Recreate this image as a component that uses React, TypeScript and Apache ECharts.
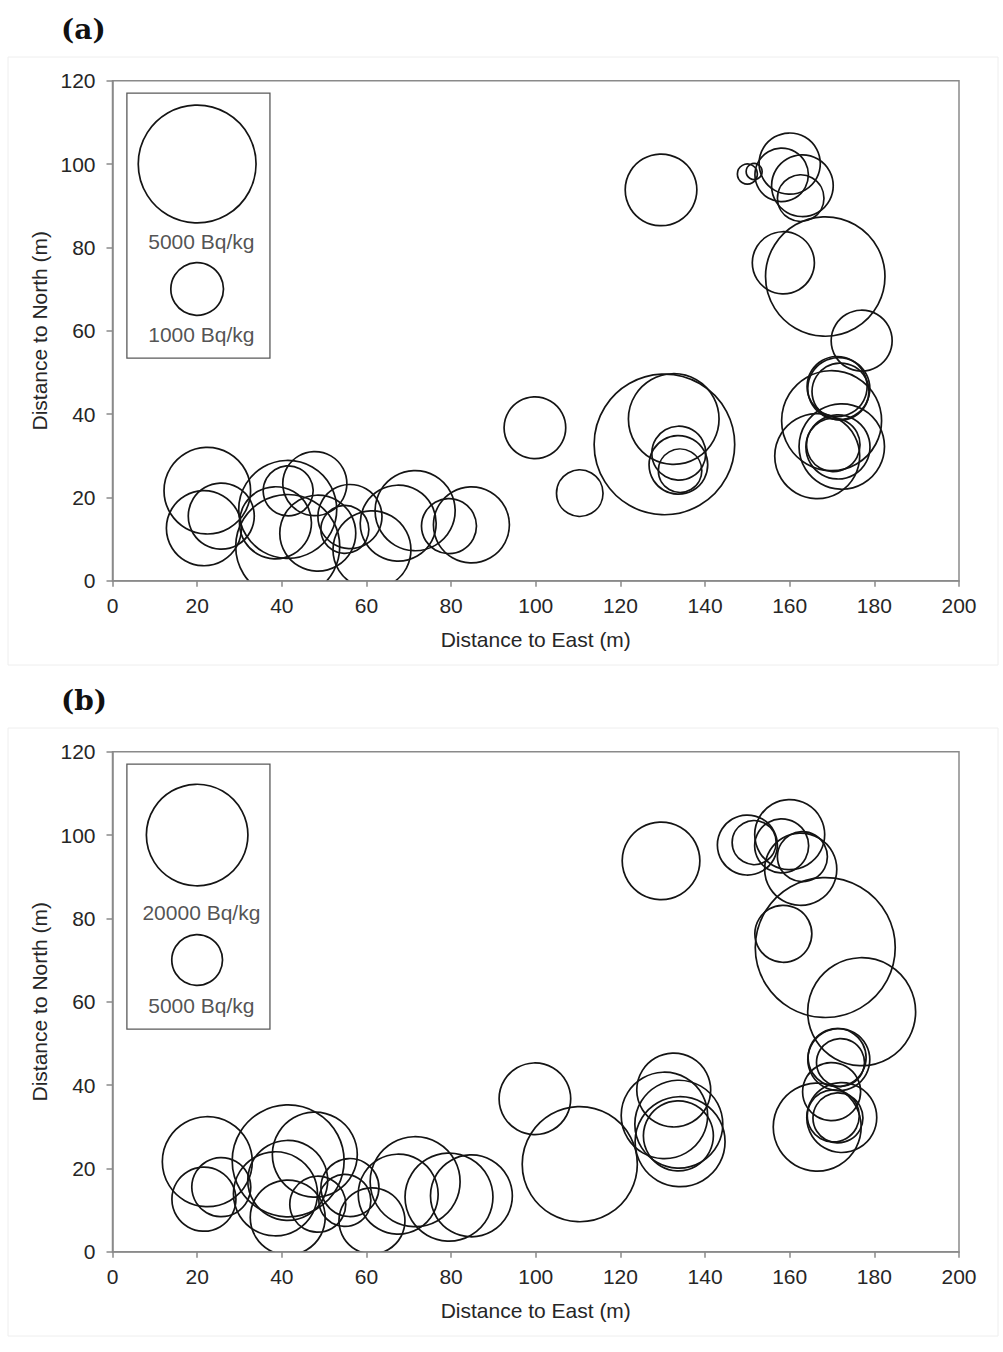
import React, { useEffect, useRef } from "react";
import * as echarts from "echarts";

// Sampling points: distance to east (m) and north (m)
const east = [22.4, 21.6, 25.7, 41.4, 41.5, 47.8, 38.5, 41.4, 48.5, 61.3, 56.1, 54.9, 67.5, 71.5, 79.5, 84.8, 99.8, 110.4, 130.4, 132.6, 133.8, 133.7, 134.1, 129.6, 150.0, 151.6, 160.0, 158.1, 163.0, 162.6, 158.5, 168.4, 177.0, 171.6, 172.0, 171.2, 169.9, 166.5, 172.3, 171.4, 170.3];
const north = [21.6, 12.6, 15.5, 17.1, 21.8, 23.3, 13.9, 8.2, 11.4, 7.4, 15.4, 12.3, 13.8, 16.8, 13.1, 13.4, 36.7, 21.0, 32.7, 38.8, 30.6, 27.8, 26.4, 93.8, 97.6, 98.2, 100.1, 97.4, 94.8, 91.8, 76.3, 73.0, 57.6, 46.1, 45.4, 46.6, 38.4, 29.9, 32.2, 32.1, 32.6];

// Activity concentrations (Bq/kg), panel (a) and panel (b)
const activityA = [2700, 2030, 1570, 3460, 900, 1480, 1870, 3900, 2080, 2190, 1480, 830, 2080, 2310, 1090, 2080, 1370, 780, 7120, 2960, 1050, 1240, 680, 1850, 144, 92, 1350, 1030, 1370, 780, 1390, 5140, 1340, 1390, 1170, 1300, 3600, 2600, 2630, 1480, 1030];
const activityB = [15700, 7950, 6750, 12400, 24300, 14000, 13700, 10900, 6080, 8450, 6530, 5250, 12400, 15700, 15000, 13000, 9950, 25700, 14500, 10600, 15000, 9500, 15700, 11700, 6980, 3760, 9500, 5660, 4850, 10100, 6300, 38000, 22600, 7460, 4470, 6530, 6530, 15000, 9500, 4850, 5250];

// Legend reference bubbles
const legendValuesA = [5000, 1000];
const legendValuesB = [20000, 5000];
const legendLabelsA = ["5000 Bq/kg", "1000 Bq/kg"];
const legendLabelsB = ["20000 Bq/kg", "5000 Bq/kg"];
const legendBubbleNorth = [100, 70];
const legendLabelNorth = [81.3, 59.2];

const xTicks = { min: 0, max: 200, interval: 20 };
const yTicks = { min: 0, max: 120, interval: 20 };
const panelTitles = ["(a)", "(b)"];

const FONT = "'Liberation Sans', Arial, sans-serif";
const AXIS_COLOR = "#8a8a8a";
const TEXT_COLOR = "#262626";

function bubbleSeries(gridIdx: number, values: number[], k: number, clip: boolean, xs: number[], ys: number[]) {
  return {
    type: "custom",
    xAxisIndex: gridIdx,
    yAxisIndex: gridIdx,
    clip,
    silent: true,
    data: xs.map((x, i) => [x, ys[i], values[i]]),
    renderItem: (_p: any, api: any) => {
      const pt = api.coord([api.value(0), api.value(1)]);
      const r = k * Math.sqrt(api.value(2));
      return {
        type: "circle",
        shape: { cx: pt[0], cy: pt[1], r },
        style: { fill: "none", stroke: "#141414", lineWidth: 1.7 },
      };
    },
  };
}

function legendTextSeries(gridIdx: number, labels: string[]) {
  return {
    type: "scatter",
    xAxisIndex: gridIdx,
    yAxisIndex: gridIdx,
    symbolSize: 0,
    silent: true,
    data: labels.map((l, i) => ({ name: l, value: [21, legendLabelNorth[i]] })),
    label: {
      show: true,
      position: "inside",
      formatter: (p: any) => p.name,
      fontSize: 21,
      fontFamily: FONT,
      color: TEXT_COLOR,
    },
    markArea: {
      silent: true,
      itemStyle: { color: "rgba(0,0,0,0)", borderColor: "#5a5a5a", borderWidth: 1.3 },
      data: [[{ coord: [3.4, 117] }, { coord: [37.2, 53.4] }]],
    },
  };
}

function xAxisCfg(gridIdx: number) {
  return {
    type: "value",
    gridIndex: gridIdx,
    ...xTicks,
    z: 10,
    name: "Distance to East (m)",
    nameLocation: "middle",
    nameGap: 48,
    nameTextStyle: { fontSize: 21, fontFamily: FONT, color: TEXT_COLOR },
    axisLine: { show: true, onZero: false, lineStyle: { color: AXIS_COLOR, width: 1.5 } },
    axisTick: { show: true, inside: false, length: 6, lineStyle: { color: AXIS_COLOR, width: 1.5 } },
    axisLabel: { fontSize: 21, fontFamily: FONT, color: TEXT_COLOR, margin: 14 },
    splitLine: { show: false },
  };
}

function yAxisCfg(gridIdx: number) {
  return {
    type: "value",
    gridIndex: gridIdx,
    ...yTicks,
    z: 10,
    name: "Distance to North (m)",
    nameLocation: "middle",
    nameGap: 62,
    nameTextStyle: { fontSize: 21, fontFamily: FONT, color: TEXT_COLOR },
    axisLine: { show: true, onZero: false, lineStyle: { color: AXIS_COLOR, width: 1.5 } },
    axisTick: { show: true, inside: false, length: 6, lineStyle: { color: AXIS_COLOR, width: 1.5 } },
    axisLabel: { fontSize: 21, fontFamily: FONT, color: TEXT_COLOR, margin: 17 },
    splitLine: { show: false },
  };
}

export default function App() {
  const ref = useRef<HTMLDivElement>(null);
  useEffect(() => {
    if (!ref.current) return;
    const chart = echarts.init(ref.current, undefined, { renderer: "svg" });
    const kA = 0.833;
    const kB = 0.359;
    const legendX = legendBubbleNorth.map(() => 20);
    chart.setOption({
      animation: false,
      backgroundColor: "#ffffff",
      title: panelTitles.map((t, i) => ({
        text: t,
        left: 56,
        top: i === 0 ? 10 : 681,
        textStyle: { fontFamily: "'DejaVu Serif', serif", fontWeight: "bold", fontSize: 28, color: "#111" },
      })),
      graphic: [
        { type: "rect", shape: { x: 8, y: 57, width: 990, height: 608 }, style: { fill: "none", stroke: "#eeeeee", lineWidth: 1 }, silent: true, z: -1 },
        { type: "rect", shape: { x: 8, y: 728, width: 990, height: 608 }, style: { fill: "none", stroke: "#eeeeee", lineWidth: 1 }, silent: true, z: -1 },
      ],
      grid: [
        { left: 112.5, top: 80.7, width: 846.5, height: 500, show: true, borderColor: AXIS_COLOR, borderWidth: 1.5, backgroundColor: "transparent" },
        { left: 112.5, top: 751.7, width: 846.5, height: 500, show: true, borderColor: AXIS_COLOR, borderWidth: 1.5, backgroundColor: "transparent" },
      ],
      xAxis: [xAxisCfg(0), xAxisCfg(1)],
      yAxis: [yAxisCfg(0), yAxisCfg(1)],
      series: [
        bubbleSeries(0, activityA, kA, true, east, north),
        bubbleSeries(0, legendValuesA, kA, false, legendX, legendBubbleNorth),
        legendTextSeries(0, legendLabelsA),
        bubbleSeries(1, activityB, kB, true, east, north),
        bubbleSeries(1, legendValuesB, kB, false, legendX, legendBubbleNorth),
        legendTextSeries(1, legendLabelsB),
      ],
    });
    return () => chart.dispose();
  }, []);
  return (
    <div
      ref={ref}
      style={{ position: "absolute", left: 0, top: 0, width: 1003, height: 1352, background: "#fff" }}
    />
  );
}
